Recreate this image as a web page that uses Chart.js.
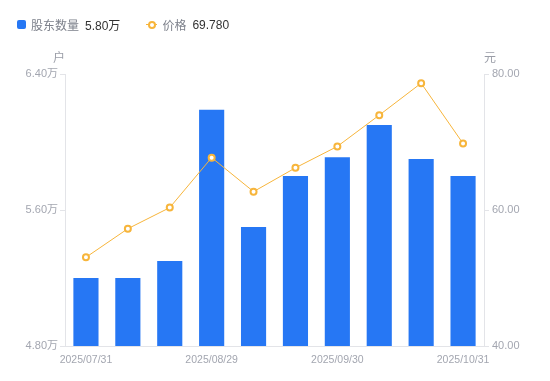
<!DOCTYPE html>
<html>
<head>
<meta charset="utf-8">
<script src="https://cdn.jsdelivr.net/npm/chart.js@4.4.1/dist/chart.umd.min.js"></script>
<style>
    html, body { margin: 0; padding: 0; background: #fff; }
    body { width: 550px; height: 381px; position: relative; overflow: hidden;
           font-family: 'Liberation Sans', 'Noto Sans CJK SC', sans-serif; }
    #wrap { position: absolute; left: 0; top: 0; width: 550px; height: 381px; }
    .legend { position: absolute; top: 16px; left: 17px; font-size: 12px; display: flex; align-items: center; white-space: nowrap; }
    .legend .name { color: #7d818b; margin-right: 6px; }
    .legend .val { color: #333; margin-right: 26px; }
    .sq { width: 9px; height: 9px; border-radius: 2px; background: #2677f4; display: inline-block; margin-right: 5px; }
    .ln { position: relative; width: 11px; height: 9px; display: inline-block; margin-right: 5px; }
    .ln:before { content: ''; position: absolute; left: 0; right: 0; top: 4px; height: 1px; background: #f7b53b; }
    .ln:after { content: ''; position: absolute; left: 2px; top: 1px; width: 4px; height: 4px; border: 2px solid #f7b53b; border-radius: 50%; background: #fff; }
</style>
</head>
<body>
<div id="wrap"><canvas id="chart" width="550" height="381"></canvas></div>
<div class="legend">
    <span class="sq"></span><span class="name">股东数量</span><span class="val" id="lgHolders"></span>
    <span class="ln"></span><span class="name">价格</span><span class="val" id="lgPrice"></span>
</div>
<script>
// Data
const dates = ['2025/07/31', '2025/08/08', '2025/08/20', '2025/08/29', '2025/09/10',
               '2025/09/19', '2025/09/30', '2025/10/10', '2025/10/20', '2025/10/31'];
const holders = [5.20, 5.20, 5.30, 6.19, 5.50, 5.80, 5.91, 6.10, 5.90, 5.80]; // 万户
const prices = [53.04, 57.25, 60.35, 67.70, 62.70, 66.20, 69.35, 73.95, 78.65, 69.78]; // 元
const shownDates = [0, 3, 6, 9];

const axisColor = '#e3e4e8';
const tickColor = '#a3a6b0';
const fontFamily = "'Liberation Sans', 'Noto Sans CJK SC', sans-serif";

document.getElementById('lgHolders').textContent = holders[holders.length - 1].toFixed(2) + '万';
document.getElementById('lgPrice').textContent = prices[prices.length - 1].toFixed(3);

// Unit titles above the y axes
const unitTitles = {
    id: 'unitTitles',
    afterDraw(chart) {
        const ctx = chart.ctx;
        const top = chart.chartArea.top;
        ctx.save();
        ctx.font = '12px ' + fontFamily;
        ctx.fillStyle = '#9a9da7';
        ctx.textAlign = 'center';
        ctx.textBaseline = 'middle';
        ctx.fillText('户', chart.scales.y.right - 6, top - 15);
        ctx.fillText('元', chart.scales.y1.left + 6, top - 15);
        ctx.restore();
    }
};

new Chart(document.getElementById('chart'), {
    type: 'bar',
    data: {
        labels: dates,
        datasets: [
            {
                type: 'line',
                label: '价格',
                data: prices,
                yAxisID: 'y1',
                borderColor: '#f7b53b',
                borderWidth: 1,
                pointRadius: 3,
                pointBorderWidth: 2,
                pointBackgroundColor: '#fff',
                pointBorderColor: '#f7b53b',
                tension: 0,
                order: 0
            },
            {
                label: '股东数量',
                data: holders,
                yAxisID: 'y',
                backgroundColor: '#2677f4',
                categoryPercentage: 0.6,
                barPercentage: 1,
                order: 1
            }
        ]
    },
    options: {
        responsive: false,
        animation: false,
        layout: { padding: { top: 74, left: 0, right: 0, bottom: 0 } },
        plugins: {
            legend: { display: false },
            tooltip: { enabled: false }
        },
        scales: {
            x: {
                offset: true,
                grid: { display: false },
                border: { color: axisColor },
                afterFit(scale) { scale.height = 35; },
                ticks: {
                    autoSkip: false,
                    maxRotation: 0,
                    color: tickColor,
                    padding: 0,
                    font: { size: 10.5, family: fontFamily },
                    callback: (v, i) => shownDates.includes(i) ? dates[i] : ''
                }
            },
            y: {
                position: 'left',
                min: 4.8,
                max: 6.4,
                afterFit(scale) { scale.width = 65; },
                grid: { drawOnChartArea: false, color: axisColor, tickLength: 5 },
                border: { color: axisColor },
                ticks: {
                    stepSize: 0.8,
                    color: tickColor,
                    padding: 2,
                    font: { size: 11, family: fontFamily },
                    callback: v => v.toFixed(2) + '万'
                }
            },
            y1: {
                position: 'right',
                min: 40,
                max: 80,
                afterFit(scale) { scale.width = 66; },
                grid: { drawOnChartArea: false, color: axisColor, tickLength: 5 },
                border: { color: axisColor },
                ticks: {
                    stepSize: 20,
                    color: tickColor,
                    padding: 3,
                    font: { size: 11, family: fontFamily },
                    callback: v => v.toFixed(2)
                }
            }
        }
    },
    plugins: [unitTitles]
});
</script>
</body>
</html>
